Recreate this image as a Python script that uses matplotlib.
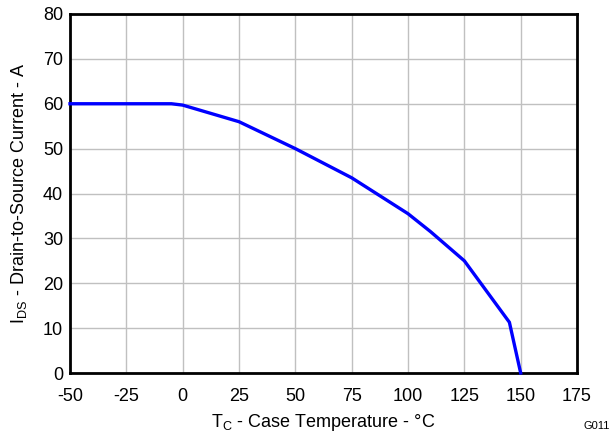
import matplotlib
matplotlib.use("Agg")
import matplotlib.pyplot as plt

plt.rcParams['font.family'] = ['Liberation Sans', 'DejaVu Sans']
plt.rcParams['axes.unicode_minus'] = False

# case temperature (C) vs drain current (A)
temp_c = [-50, -5, 0, 25, 50, 75, 100, 110, 125, 145, 150]
current_a = [60, 60, 59.7, 56, 50, 43.5, 35.5, 31.5, 25, 11.3, 0]

x_ticks = [-50, -25, 0, 25, 50, 75, 100, 125, 150, 175]
y_ticks = [0, 10, 20, 30, 40, 50, 60, 70, 80]

fig = plt.figure(figsize=(6.11, 4.33), dpi=100)
ax = fig.add_axes([70 / 611, 60 / 433, 507 / 611, 359 / 433])

ax.plot(temp_c, current_a, color='#0000ff', lw=2.4, solid_joinstyle='miter', clip_on=False, zorder=3)

ax.set_xlim(-50, 175)
ax.set_ylim(0, 80)
ax.set_xticks(x_ticks)
ax.set_yticks(y_ticks)
ax.grid(True, color='#c0c0c0', lw=1)
ax.set_axisbelow(True)
ax.tick_params(length=0, labelsize=13)
ax.tick_params(axis='x', pad=11)
ax.tick_params(axis='y', pad=5)
for s in ax.spines.values():
    s.set_linewidth(2)
    s.set_color('black')

ax.set_xlabel(r'T$_\mathregular{C}$ - Case Temperature - °C', fontsize=13, labelpad=5)
ax.set_ylabel(r'I$_\mathregular{DS}$ - Drain-to-Source Current - A', fontsize=13, labelpad=10)
fig.text(610 / 611, 7 / 433, 'G011', fontsize=8, ha='right', va='center')

fig.savefig('out.png', dpi=100)
